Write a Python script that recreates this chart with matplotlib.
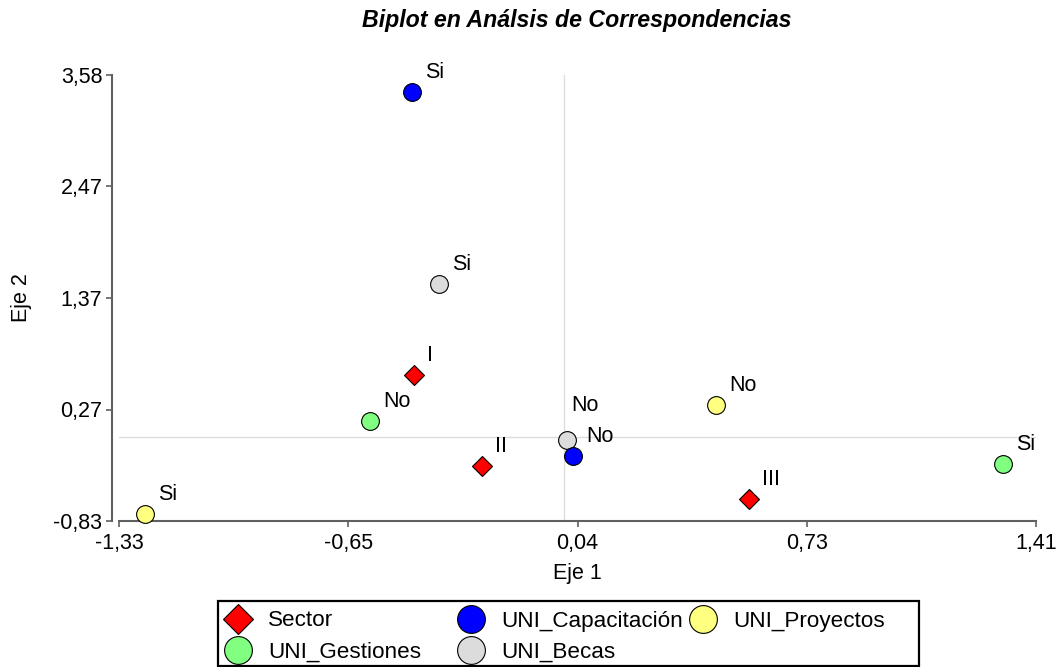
import matplotlib
matplotlib.use('Agg')
import matplotlib.pyplot as plt
from matplotlib.lines import Line2D
from matplotlib.patches import Rectangle
import numpy as np

plt.rcParams['font.family'] = ['Liberation Sans', 'DejaVu Sans']

# ---------------- data ----------------
sector_labels = ['I', 'II', 'III']
sector_x = [-0.449, -0.246, 0.552]
sector_y = [0.618, -0.282, -0.608]

gestiones_labels = ['No', 'Si']
gestiones_x = [-0.579, 1.311]
gestiones_y = [0.159, -0.266]

becas_labels = ['Si', 'No']
becas_x = [-0.373, 0.009]
becas_y = [1.509, -0.025]

capacitacion_labels = ['Si', 'No']
capacitacion_x = [-0.455, 0.027]
capacitacion_y = [3.409, -0.187]

proyectos_labels = ['Si', 'No']
proyectos_x = [-1.251, 0.454]
proyectos_y = [-0.757, 0.318]

x_tick_values = np.linspace(-1.33, 1.41, 5)
x_tick_labels = ['-1,33', '-0,65', '0,04', '0,73', '1,41']
y_tick_values = np.linspace(-0.83, 3.58, 5)
y_tick_labels = ['-0,83', '0,27', '1,37', '2,47', '3,58']

title = 'Biplot en Análsis de Correspondencias'
xlabel = 'Eje 1'
ylabel = 'Eje 2'

# ---------------- figure ----------------
W, H = 1058, 667
fig = plt.figure(figsize=(W / 100, H / 100), dpi=100)
ax = fig.add_axes([119 / W, (H - 521) / H, (1036 - 119) / W, (521 - 75) / H])
ax.set_xlim(x_tick_values[0], x_tick_values[-1])
ax.set_ylim(y_tick_values[0], y_tick_values[-1])

FS = 15.5
ref_col = '#dddddd'
ax.axvline(0, color=ref_col, lw=1.0, zorder=1)
ax.axhline(0, color=ref_col, lw=1.0, zorder=1)

CIRC = 12.8
DIAM = 9.8
edge = 'black'

groups = [
    ('Sector', sector_x, sector_y, sector_labels, 'D', '#ff0000', DIAM),
    ('UNI_Gestiones', gestiones_x, gestiones_y, gestiones_labels, 'o', '#80ff80', CIRC),
    ('UNI_Becas', becas_x, becas_y, becas_labels, 'o', '#dcdcdc', CIRC),
    ('UNI_Capacitación', capacitacion_x, capacitacion_y, capacitacion_labels, 'o', '#0000ff', CIRC),
    ('UNI_Proyectos', proyectos_x, proyectos_y, proyectos_labels, 'o', '#ffff80', CIRC),
]

styles = {}
for name, xs, ys, labs, mk, col, ms in groups:
    ax.plot(xs, ys, linestyle='none', marker=mk, markersize=ms,
            markerfacecolor=col, markeredgecolor=edge, markeredgewidth=0.8,
            clip_on=False, zorder=3, label=name)
    styles[name] = (mk, col, ms)
    for x, y, t in zip(xs, ys, labs):
        off = (13, 14)
        if name == 'UNI_Becas' and t == 'No':
            off = (4, 29)
        ax.annotate(t, (x, y), xytext=off, textcoords='offset pixels',
                    ha='left', va='baseline', fontsize=FS, color='black', zorder=4)

# spines
for s in ['top', 'right']:
    ax.spines[s].set_visible(False)
spine_col = '#606060'
ax.spines['left'].set_position(('outward', 5))
for s in ['left', 'bottom']:
    ax.spines[s].set_color(spine_col)
    ax.spines[s].set_linewidth(1.5)

ax.set_xticks(x_tick_values)
ax.set_xticklabels(x_tick_labels)
ax.set_yticks(y_tick_values)
ax.set_yticklabels(y_tick_labels)
ax.tick_params(axis='both', which='major', labelsize=FS, colors=spine_col,
               labelcolor='black', width=1.2, length=4, direction='out')
ax.tick_params(axis='x', pad=5)
ax.tick_params(axis='y', pad=3)

fig.text(577 / W, 1 - 21 / H, title, ha='center', va='center', fontsize=16.7,
         fontweight='bold', fontstyle='italic')
fig.text(577 / W, 1 - 573 / H, xlabel, ha='center', va='center', fontsize=FS)
fig.text(22 / W, 1 - 298 / H, ylabel, ha='center', va='center', fontsize=FS,
         rotation=90)

# ---------------- legend (grid layout) ----------------
LFS = 16.2
fig.add_artist(Rectangle((218 / W, 1 - 666 / H), (919 - 218) / W, (666 - 601) / H,
                         transform=fig.transFigure, facecolor='white',
                         edgecolor='black', linewidth=1.6, zorder=5))
legend_order = [['Sector', 'UNI_Capacitación', 'UNI_Proyectos'],
                ['UNI_Gestiones', 'UNI_Becas']]
col_px = [238, 471, 703]
row_px = [618.5, 649.5]
for r, row in enumerate(legend_order):
    for c, name in enumerate(row):
        mk, col, ms = styles[name]
        lms = 14.8 if mk == 'D' else 20.0
        fx, fy = col_px[c] / W, 1 - row_px[r] / H
        fig.add_artist(Line2D([fx], [fy], transform=fig.transFigure,
                              linestyle='none', marker=mk, markersize=lms,
                              markerfacecolor=col, markeredgecolor='black',
                              markeredgewidth=0.8, zorder=6))
        fig.text((col_px[c] + 30) / W, fy, name, ha='left', va='center_baseline',
                 fontsize=LFS, zorder=6)

fig.savefig('out.png', dpi=100)
